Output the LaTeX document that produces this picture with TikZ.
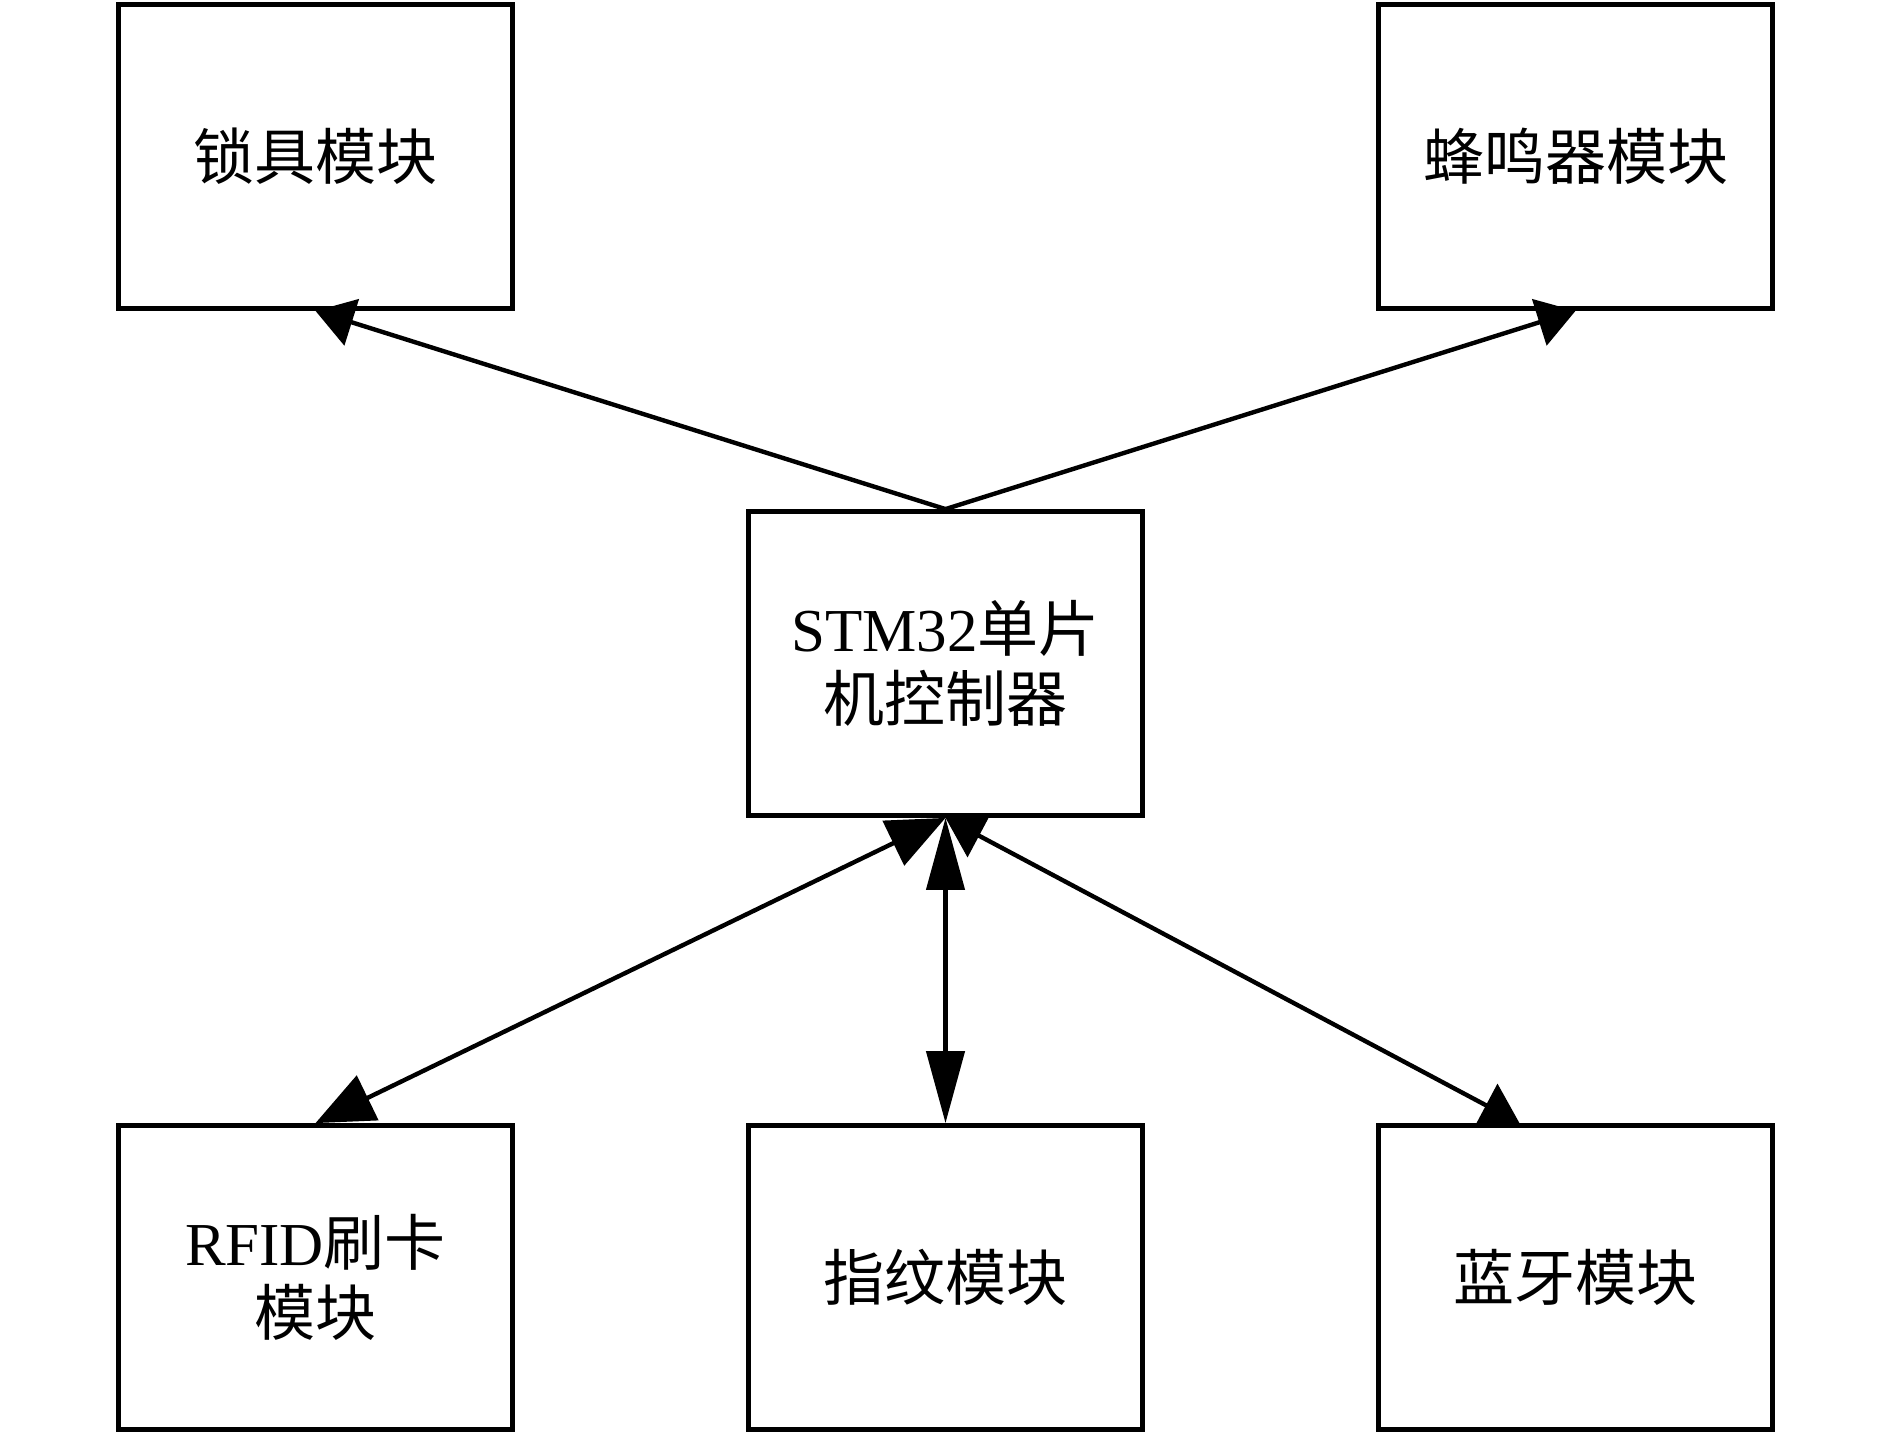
\documentclass[tikz,border=0pt]{standalone}
\usepackage{fontspec}
\setmainfont{Liberation Serif}
\newfontfamily\cjk{Noto Sans CJK SC}
\usetikzlibrary{arrows.meta,calc}
\begin{document}
\begin{tikzpicture}[x=1pt,y=-1pt,
  box/.style={draw,line width=4.8pt,minimum width=394pt,minimum height=304pt,inner sep=0pt,align=center,font=\fontsize{61}{70}\selectfont},
  conn/.style={line width=4.4pt},
  tA/.tip={Triangle[length=38pt,width=48pt]},
  tB/.tip={Triangle[length=58pt,width=49pt]},
  tC/.tip={Triangle[length=72pt,width=38pt]}]
\useasboundingbox (0,0) rectangle (1890,1434);
\node[box] (lock) at (315.5,156.5) {{\cjk 锁具模块}};
\node[box] (buzz) at (1575.5,156.5) {{\cjk 蜂鸣器模块}};
\node[box] (stm) at (945.5,663.5) {STM32{\cjk 单片}\\{\cjk 机控制器}};
\node[box] (rfid) at (315.5,1277.5) {RFID{\cjk 刷卡}\\{\cjk 模块}};
\node[box] (fp) at (945.5,1277.5) {{\cjk 指纹模块}};
\node[box] (bt) at (1575.5,1277.5) {{\cjk 蓝牙模块}};
\coordinate (btin) at ($(bt.north)+(-56,0)$);
\draw[conn,-tA] (stm.north) -- (lock.south);
\draw[conn,-tA] (stm.north) -- (buzz.south);
\draw[conn,tB-tB] (stm.south) -- (rfid.north);
\draw[conn,tC-tC] (stm.south) -- (fp.north);
\draw[conn,tA-tA] (stm.south) -- (btin);
\end{tikzpicture}
\end{document}
